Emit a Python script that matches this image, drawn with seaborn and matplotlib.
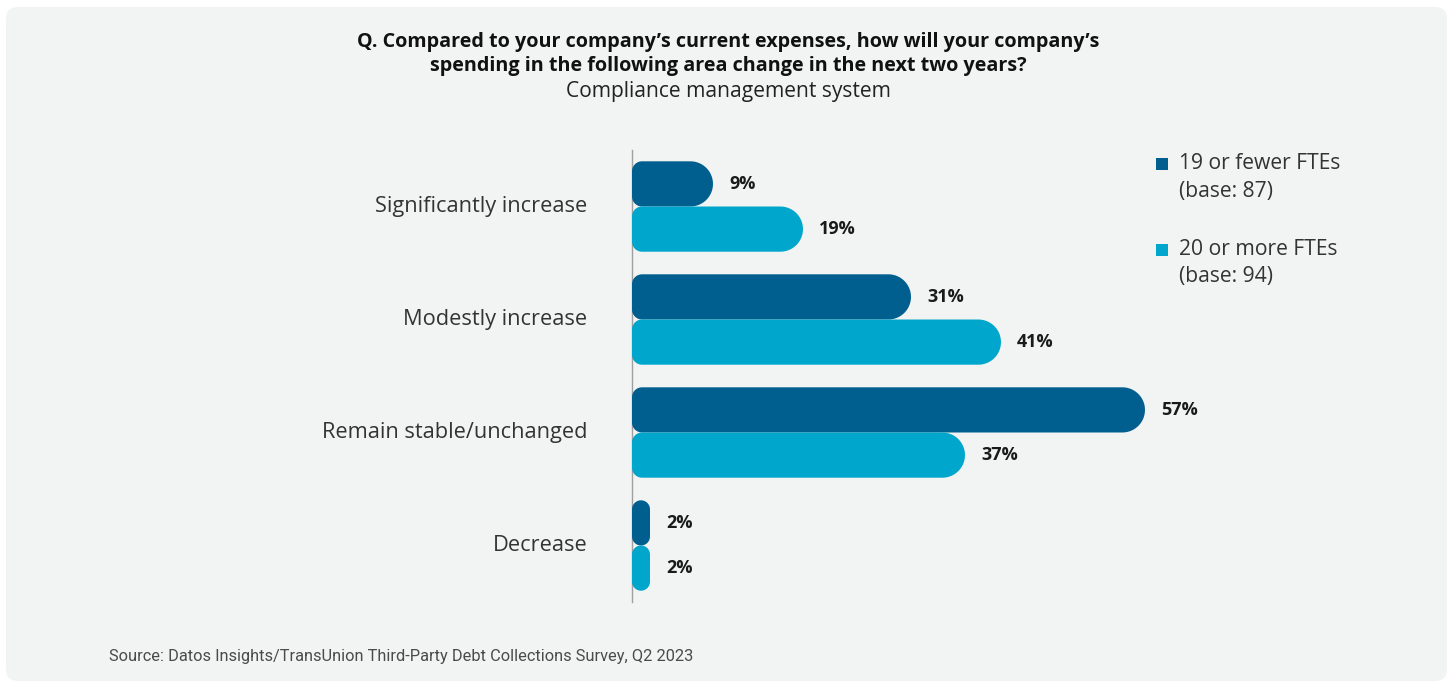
import numpy as np
import pandas as pd
import matplotlib
matplotlib.use("Agg")
import matplotlib.pyplot as plt
import seaborn as sns
from matplotlib.path import Path
from matplotlib.patches import PathPatch, FancyBboxPatch, Rectangle
from matplotlib.transforms import IdentityTransform, ScaledTranslation

# ---- data -------------------------------------------------------------
categories = ["Significantly increase", "Modestly increase",
              "Remain stable/unchanged", "Decrease"]
small_firms = [9, 31, 57, 2]      # 19 or fewer FTEs
large_firms = [19, 41, 37, 2]     # 20 or more FTEs
series_names = ["19 or fewer FTEs", "20 or more FTEs"]
series_bases = ["(base: 87)", "(base: 94)"]
colors = ["#015f8f", "#00a6cb"]

title_lines = ["Q. Compared to your company\u2019s current expenses, how will your company\u2019s",
               "spending in the following area change in the next two years?"]
subtitle = "Compliance management system"
source = "Source: Datos Insights/TransUnion Third-Party Debt Collections Survey, Q2 2023"

df = pd.DataFrame({
    "category": categories * 2,
    "share": small_firms + large_firms,
    "group": [series_names[0]] * len(categories) + [series_names[1]] * len(categories),
})

# ---- figure -----------------------------------------------------------
sns.set_theme(style="white")
plt.rcParams["font.family"] = ["Open Sans", "DejaVu Sans"]

W, H = 1449, 682
fig = plt.figure(figsize=(W / 100, H / 100), dpi=100)
fig.patch.set_facecolor("white")

# light grey rounded background card
card = FancyBboxPatch((6, 1), W - 8, H - 8,
                      boxstyle="round,pad=0,rounding_size=12",
                      facecolor="#f2f4f3", edgecolor="none",
                      transform=IdentityTransform(), zorder=-5)
fig.add_artist(card)

ax = fig.add_axes([632 / W, 80 / H, 540 / W, 452 / H])
ax.set_facecolor("none")

sns.barplot(data=df, y="category", x="share", hue="group",
            order=categories, hue_order=series_names,
            palette=colors, saturation=1, width=0.8,
            legend=False, ax=ax)

ax.set_xlim(0, 60)
ax.set_ylim(3.5, -0.5)
ax.set_xlabel("")
ax.set_ylabel("")
ax.set_xticks([])
for side in ("top", "right", "bottom"):
    ax.spines[side].set_visible(False)
ax.spines["left"].set_color("#a0a0a0")
ax.spines["left"].set_linewidth(1.0)
ax.tick_params(axis="y", length=0, pad=32, labelsize=15.7, labelcolor="#333333")

# nudge the category labels up slightly
lift = ScaledTranslation(0, 2.5 / 100, fig.dpi_scale_trans)
for lbl in ax.get_yticklabels():
    lbl.set_transform(lbl.get_transform() + lift)


def rounded_bar_path(x0, y0, x1, y1, r_left, r_right, n=16):
    """Closed path (display coords) with small left and pill-shaped right corners."""
    pts = []
    def arc(cx, cy, r, a0, a1):
        for t in np.linspace(np.radians(a0), np.radians(a1), n):
            pts.append((cx + r * np.cos(t), cy + r * np.sin(t)))
    arc(x1 - r_right, y0 + r_right, r_right, -90, 0)
    arc(x1 - r_right, y1 - r_right, r_right, 0, 90)
    arc(x0 + r_left, y1 - r_left, r_left, 90, 180)
    arc(x0 + r_left, y0 + r_left, r_left, 180, 270)
    pts.append(pts[0])
    codes = [Path.MOVETO] + [Path.LINETO] * (len(pts) - 2) + [Path.CLOSEPOLY]
    return Path(pts, codes)


# swap each rectangular bar for a rounded one with the same extent
for bar in list(ax.patches):
    (x0, y0), (x1, y1) = ax.transData.transform(bar.get_bbox().get_points())
    x0, x1 = sorted((x0, x1))
    y0, y1 = sorted((y0, y1))
    w, h = x1 - x0, y1 - y0
    r_left = min(10, w / 2, h / 2)
    r_right = min(h / 2, w / 2)
    ax.add_patch(PathPatch(rounded_bar_path(x0, y0, x1, y1, r_left, r_right),
                           facecolor=bar.get_facecolor(), edgecolor="none",
                           transform=IdentityTransform(), clip_on=False, zorder=3))
    bar.set_visible(False)

for container in ax.containers:
    ax.bar_label(container, fmt="{:.0f}%", padding=11.5,
                 fontsize=13, fontweight="bold", color="#1a1a1a")

# ---- titles -----------------------------------------------------------
cx = 728 / W
fig.text(cx, 1 - 47 / H, title_lines[0], ha="center", va="baseline",
         fontsize=14.2, fontweight="bold", color="#111111")
fig.text(cx, 1 - 71 / H, title_lines[1], ha="center", va="baseline",
         fontsize=14.2, fontweight="bold", color="#111111")
fig.text(cx, 1 - 97 / H, subtitle, ha="center", va="baseline",
         fontsize=15.1, color="#222222")

# ---- legend -----------------------------------------------------------
legend_rows = [(164, 169, 197), (249.5, 255, 282)]
for color, name, base, (sq_y, y1, y2) in zip(colors, series_names, series_bases, legend_rows):
    fig.add_artist(Rectangle((1155.5, H - sq_y - 6), 12, 12, facecolor=color,
                             edgecolor="none", transform=IdentityTransform()))
    fig.text(1179 / W, 1 - y1 / H, name, ha="left", va="baseline",
             fontsize=15.2, color="#333333")
    fig.text(1179 / W, 1 - y2 / H, base, ha="left", va="baseline",
             fontsize=15.2, color="#333333")

# ---- source -----------------------------------------------------------
fig.text(109 / W, 1 - 661 / H, source, ha="left", va="baseline",
         fontsize=11.8, color="#4a4a4a", family=["Roboto", "DejaVu Sans"])

fig.savefig("out.png", dpi=100, facecolor=fig.get_facecolor())
